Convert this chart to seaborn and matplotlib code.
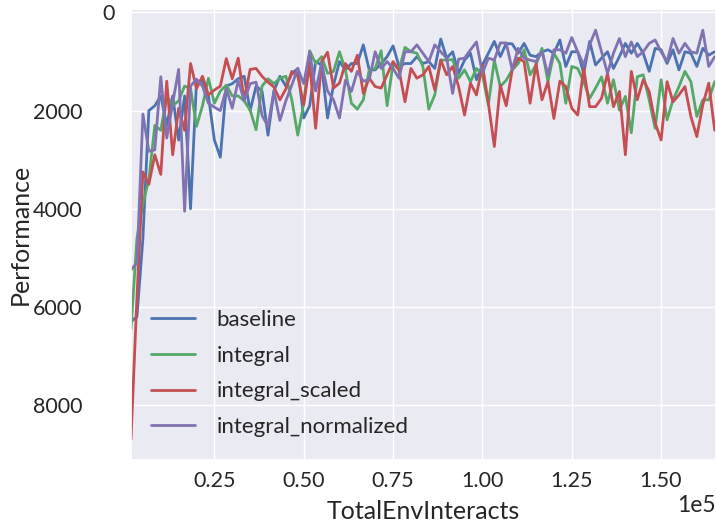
import numpy as np
import pandas as pd
import matplotlib
matplotlib.use("Agg")
import matplotlib.pyplot as plt
import matplotlib.transforms as mtransforms
from matplotlib.ticker import FuncFormatter
import seaborn as sns

# ---- data ----
steps_per_epoch = 1667
n_epochs = 99
series_names = ["baseline", "integral", "integral_scaled", "integral_normalized"]
colors = ["#4C72B0", "#55A868", "#C44E52", "#8172B2"]

baseline = [-6300, -6200, -4600, -2000, -1900, -1700, -2300, -1700, -2600, -1700,
            -4000, -1400, -1400, -1700, -2600, -2950, -1500, -1450, -1350, -1300,
            -2000, -1500, -1600, -2500, -1600, -1300, -1500, -1250, -1140, -2150,
            -1900, -1000, -1070, -2150, -1480, -1000, -1170, -1040, -1040, -660,
            -1170, -1170, -1040, -900, -680, -1100, -1040, -1040, -900, -1040,
            -1000, -1140, -540, -930, -800, -1240, -970, -830, -1370, -1070,
            -830, -590, -900, -630, -640, -830, -630, -870, -900, -800,
            -760, -830, -560, -1100, -800, -800, -1240, -590, -1070, -930,
            -800, -1140, -900, -630, -830, -630, -830, -1200, -730, -760,
            -1040, -760, -1170, -800, -830, -1100, -730, -870, -800]

integral = [-6450, -4600, -3900, -3400, -2300, -2400, -1700, -1900, -1800, -1500,
            -1550, -2320, -1900, -1340, -1850, -1600, -1480, -1700, -1700, -1800,
            -1990, -2390, -1500, -1350, -1450, -1340, -1300, -1780, -2500, -1850,
            -780, -1040, -900, -1240, -1200, -800, -1170, -1850, -1970, -1780,
            -1170, -1140, -780, -1900, -1040, -1170, -710, -800, -830, -1100,
            -1970, -1680, -970, -970, -960, -1340, -1170, -1410, -1140, -1270,
            -1880, -970, -1510, -1380, -1170, -1040, -760, -1270, -1070, -730,
            -1410, -830, -1040, -1850, -1100, -1140, -1410, -1750, -1540, -1310,
            -1850, -1370, -1990, -1710, -2450, -1310, -1270, -1780, -2360, -1370,
            -2190, -1780, -1510, -1200, -1410, -2120, -1780, -1780, -1410]

integral_scaled = [-8700, -5800, -3250, -3500, -2900, -3300, -1400, -2900, -1950, -2400,
                   -1040, -1550, -1300, -1680, -1580, -1500, -940, -1350, -930, -1780,
                   -1160, -1140, -1300, -1420, -1520, -1780, -1560, -1200, -1300, -1880,
                   -1040, -2360, -1000, -810, -1540, -1440, -1040, -1200, -870, -1650,
                   -1340, -1510, -1540, -1270, -1000, -1170, -1820, -1140, -1340, -1270,
                   -1100, -1580, -970, -1270, -1100, -1510, -2090, -1440, -1680, -1070,
                   -1850, -2730, -1480, -1900, -1170, -930, -1000, -1850, -1040, -1780,
                   -1410, -2160, -1400, -1510, -1950, -2090, -1140, -1920, -1920, -1750,
                   -1240, -1920, -1610, -2900, -1200, -1780, -1370, -1610, -2250, -2600,
                   -1410, -1820, -1680, -1510, -2120, -2530, -1880, -1440, -2400]

integral_normalized = [-5250, -5100, -2070, -2830, -2800, -1310, -2560, -1850, -1160, -4050,
                       -1500, -1360, -1500, -1850, -1930, -2000, -1550, -1950, -1380, -1800,
                       -1450, -1420, -2100, -2320, -1600, -2200, -1800, -1480, -1140, -1450,
                       -800, -1600, -1030, -1600, -1780, -2150, -1380, -1610, -1200, -1400,
                       -1370, -800, -1140, -1000, -1140, -1340, -800, -800, -660, -830,
                       -1000, -660, -800, -930, -1650, -950, -930, -760, -600, -1240,
                       -930, -970, -620, -620, -1170, -730, -930, -970, -1000, -800,
                       -1270, -760, -760, -830, -510, -800, -1070, -660, -360, -800,
                       -1240, -830, -530, -900, -600, -900, -800, -630, -560, -800,
                       -1000, -530, -830, -630, -800, -830, -360, -1100, -900]

y_ticks = [0, -2000, -4000, -6000, -8000]

# ---- assemble long table ----
x = np.arange(1, n_epochs + 1) * steps_per_epoch
frames = []
for name, vals in zip(series_names, [baseline, integral, integral_scaled, integral_normalized]):
    frames.append(pd.DataFrame({"TotalEnvInteracts": x, "Performance": vals, "Condition": name}))
df = pd.concat(frames, ignore_index=True)

sns.set_theme(style="darkgrid", font_scale=1.5)
plt.rcParams["font.family"] = ["Lato", "DejaVu Sans"]

W, H = 716, 527
fig = plt.figure(figsize=(W / 100, H / 100), dpi=100)
ax = fig.add_axes([131 / W, 1 - 460 / H, (716 - 131) / W, (460 - 9) / H])

sns.lineplot(data=df, x="TotalEnvInteracts", y="Performance", hue="Condition",
             hue_order=series_names, palette=colors, linewidth=2.0,
             errorbar=None, ax=ax, legend=False)

ax.set_xlim(steps_per_epoch, steps_per_epoch + (716 - 131) / 357.3 * 1e5)
ax.set_ylim(-9120, 71)
ax.set_yticks(y_ticks)
ax.yaxis.set_major_formatter(FuncFormatter(lambda v, p: f"{abs(v):.0f}"))
ax.ticklabel_format(style="sci", axis="x", scilimits=(0, 0))
ax.set_xticks([25000, 50000, 75000, 100000, 125000, 150000])

ax.tick_params(axis="y", pad=11.5, labelsize=15.5, length=0)
ax.tick_params(axis="x", pad=8, labelsize=15.5, length=0)
# invisible minus sign in the original: non-zero labels sit further left
for t, v in zip(ax.yaxis.get_major_ticks(), y_ticks):
    if v != 0:
        t.label1.set_transform(t.label1.get_transform() +
                               mtransforms.ScaledTranslation(-33 / 100, 0, fig.dpi_scale_trans))

ax.set_xlabel("TotalEnvInteracts", fontsize=18)
ax.set_ylabel("Performance", fontsize=18)
ax.xaxis.set_label_coords(0.5, -0.088)
ax.yaxis.set_label_coords(-0.17, 0.5)

handles = [plt.Line2D([], [], color=c, linewidth=2.0) for c in colors]
ax.legend(handles, series_names, loc="lower left", frameon=False, fontsize=16,
          bbox_to_anchor=(0.0, 0.007), labelspacing=0.7, handletextpad=0.95)

fig.savefig("out.png", dpi=100)
